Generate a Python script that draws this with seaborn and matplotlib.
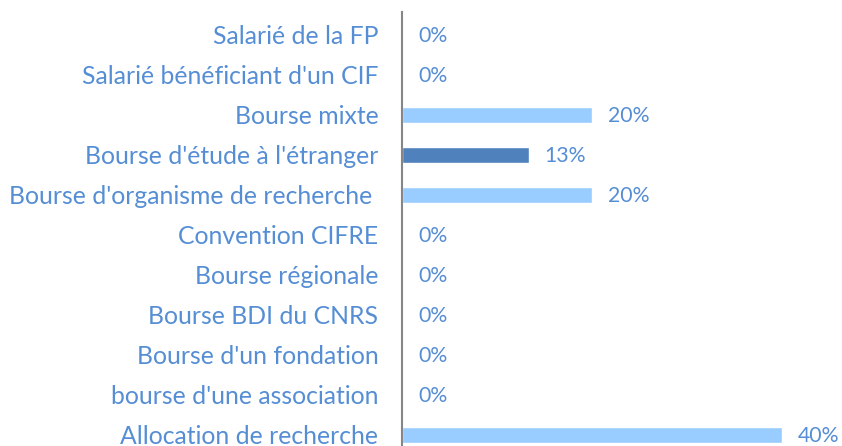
import pandas as pd
import seaborn as sns
import matplotlib.pyplot as plt

# Données
categories = ['Salarié de la FP', "Salarié bénéficiant d'un CIF", 'Bourse mixte',
              "Bourse d'étude à l'étranger", "Bourse d'organisme de recherche ",
              'Convention CIFRE', 'Bourse régionale', 'Bourse BDI du CNRS',
              "Bourse d'un fondation", "bourse d'une association", 'Allocation de recherche']
valeurs = [0, 0, 3/15, 2/15, 3/15, 0, 0, 0, 0, 0, 6/15]
couleurs = ['#99CCFF', '#99CCFF', '#99CCFF', '#4F81BD', '#99CCFF', '#99CCFF',
            '#99CCFF', '#99CCFF', '#99CCFF', '#99CCFF', '#99CCFF']

texte = '#558ED5'
df = pd.DataFrame({'cat': categories, 'val': valeurs})

sns.set_style('white')
plt.rcParams['font.family'] = ['Lato', 'DejaVu Sans']

fig = plt.figure(figsize=(8.42, 4.46), dpi=100)
ax = fig.add_axes([402 / 842, 0, 440 / 842, 1 - 12 / 446])
sns.barplot(data=df, x='val', y='cat', hue='cat', palette=couleurs,
            legend=False, width=0.4, ax=ax, saturation=1)

ax.set_xlim(0, 0.4 * 440 / 380)
ax.set_ylim(10 + 11 / 40, -0.575)
ax.set_xlabel('')
ax.set_ylabel('')
ax.set_xticks([])
ax.tick_params(axis='y', length=0, pad=17, labelsize=17.8, labelcolor=texte)
for s in ['top', 'right', 'bottom']:
    ax.spines[s].set_visible(False)
ax.spines['left'].set_color('#868686')
ax.spines['left'].set_linewidth(1.5)

for i, v in enumerate(valeurs):
    ax.annotate(f'{v:.0%}', (v, i), xytext=(16, -1), textcoords='offset pixels',
                va='center', ha='left', fontsize=15.3, color=texte)

fig.savefig('out.png', dpi=100)
